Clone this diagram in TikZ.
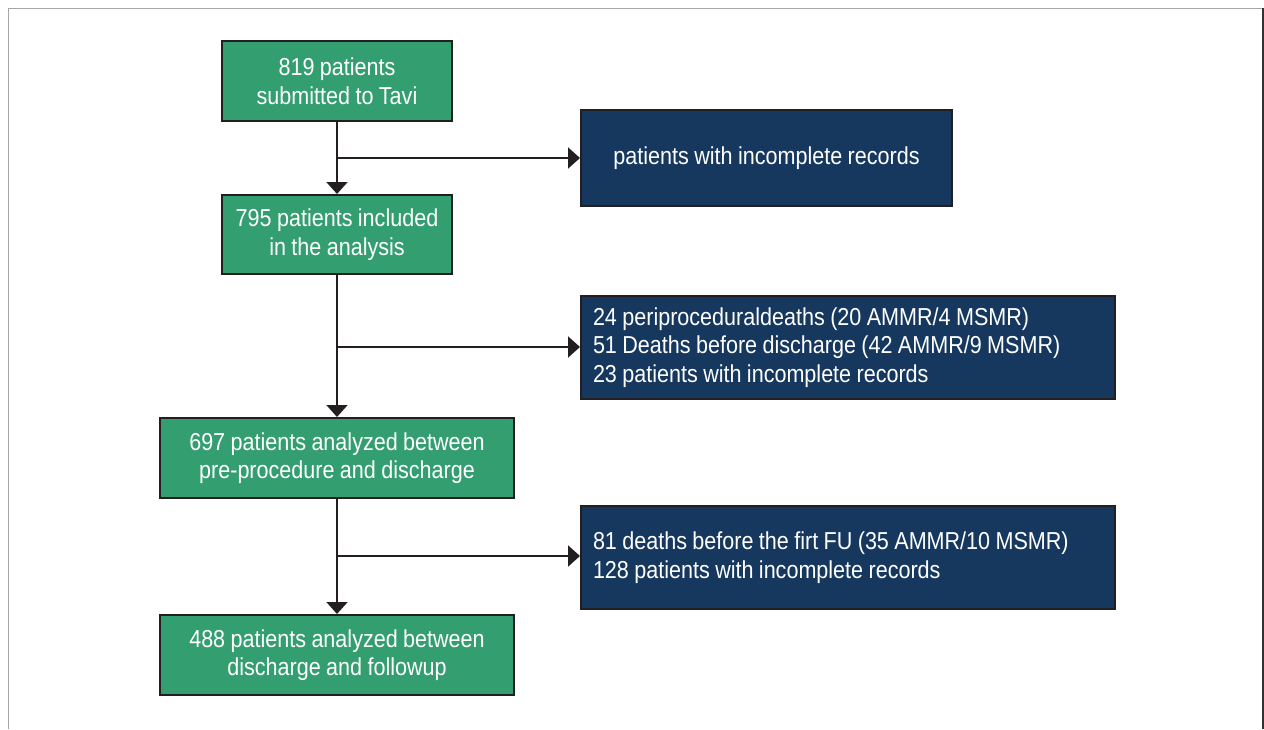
\documentclass[tikz,border=0pt]{standalone}
\usepackage{fontspec}
\setmainfont[FakeStretch=0.88,WordSpace=0.9]{Liberation Sans}
\usetikzlibrary{arrows.meta}
\definecolor{boxgreen}{RGB}{51,158,111}
\definecolor{boxblue}{RGB}{22,56,95}
\definecolor{edge}{RGB}{35,31,32}
\tikzset{
  base/.style={draw=edge, line width=2pt, text=white, inner sep=0pt,
    font=\fontsize{24.5}{28.5}\selectfont},
  greenbox/.style={base, fill=boxgreen, align=center},
  bluebox/.style={base, fill=boxblue, align=flush left, inner xsep=12pt},
  arr/.style={draw=edge, line width=2pt, -{Triangle[width=21pt,length=12pt]}},
}
\begin{document}
\begin{tikzpicture}[x=1pt,y=-1pt]
\useasboundingbox (0,0) rectangle (1264,729);
\draw[gray!70, line width=1pt] (8,729) -- (8,8) -- (1263,8);
\draw[gray!40!black, line width=1.2pt] (1263,8) -- (1263,729);

\node[greenbox, minimum width=230pt, minimum height=80pt] (b1) at (337,81) {819 patients\\submitted to Tavi};
\node[greenbox, minimum width=230pt, minimum height=79pt] (b2) at (337,234.5) {795 patients included\\in the analysis};
\node[greenbox, minimum width=354pt, minimum height=80pt] (b3) at (337,458) {697 patients analyzed between\\pre-procedure and discharge};
\node[greenbox, minimum width=354pt, minimum height=80pt] (b4) at (337,655) {488 patients analyzed between\\discharge and followup};

\node[base, fill=boxblue, align=center, minimum width=371pt, minimum height=96pt] (r1) at (766.5,158) {patients with incomplete records};
\node[bluebox, text width=510pt, minimum height=103pt] (r2) at (848,347.5) {24 periproceduraldeaths (20 AMMR/4 MSMR)\\51 Deaths before discharge (42 AMMR/9 MSMR)\\23 patients with incomplete records};
\node[bluebox, text width=510pt, minimum height=103pt] (r3) at (848,557.5) {81 deaths before the firt FU (35 AMMR/10 MSMR)\\128 patients with incomplete records};

\coordinate (j1) at (337,158);
\coordinate (j2) at (337,347);
\coordinate (j3) at (337,556);

\draw[arr] (b1) -- (b2);
\draw[arr] (b2) -- (b3);
\draw[arr] (b3) -- (b4);
\draw[arr] (j1) -- (j1 -| r1.west);
\draw[arr] (j2) -- (j2 -| r2.west);
\draw[arr] (j3) -- (j3 -| r3.west);
\end{tikzpicture}
\end{document}
